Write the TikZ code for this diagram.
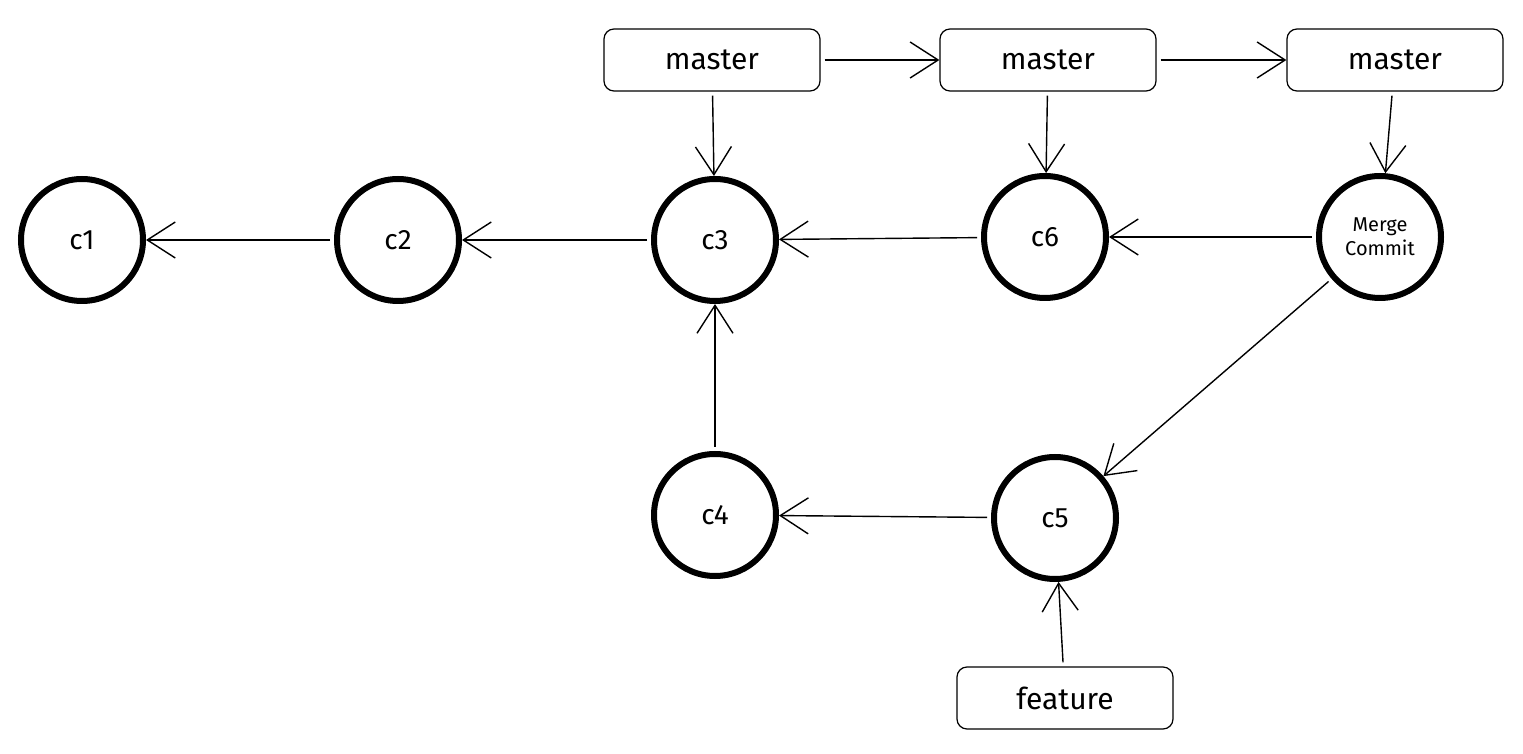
\documentclass[tikz,border=0pt]{standalone}
\usepackage{fontspec}
\setmainfont{Fira Sans}
\usetikzlibrary{arrows.meta}
\begin{document}
\begin{tikzpicture}[x=0.5pt,y=-0.5pt,
  commit/.style={circle,draw,line width=3pt,minimum size=122\pgflinewidth/6,inner sep=0pt,font=\fontsize{14}{16}\selectfont},
  br/.style={draw,rounded corners=5pt,minimum width=108pt,minimum height=31pt,font=\fontsize{15}{17}\selectfont,line width=0.6pt},
  arr/.style={line width=0.7pt,-{Straight Barb[length=14pt,width=18pt,line width=0.7pt]},shorten <=2pt}]
\useasboundingbox (0,0) rectangle (1523,754);
\tikzset{commit/.append style={minimum size=61pt}}
\node[commit] (c1) at (82,240) {c1};
\node[commit] (c2) at (398,240) {c2};
\node[commit] (c3) at (715,240) {c3};
\node[commit] (c6) at (1045,237) {c6};
\node[commit,font=\fontsize{10}{12}\selectfont,align=center] (m) at (1380,237) {Merge\\Commit};
\node[commit] (c4) at (715,515) {c4};
\node[commit] (c5) at (1055,518) {c5};
\node[br] (b1) at (712,60) {master};
\node[br] (b2) at (1048,60) {master};
\node[br] (b3) at (1395,60) {master};
\node[br] (f) at (1065,698) {feature};
\draw[arr] (c2) -- (c1);
\draw[arr] (c3) -- (c2);
\draw[arr] (c6) -- (c3);
\draw[arr] (m) -- (c6);
\draw[arr] (c4) -- (c3);
\draw[arr] (c5) -- (c4);
\draw[arr] (m) -- (c5);
\draw[arr] (f) -- (c5);
\draw[arr] (b1) -- (c3);
\draw[arr] (b2) -- (c6);
\draw[arr] (b3) -- (m);
\draw[arr] (b1) -- (b2);
\draw[arr] (b2) -- (b3);
\end{tikzpicture}
\end{document}
